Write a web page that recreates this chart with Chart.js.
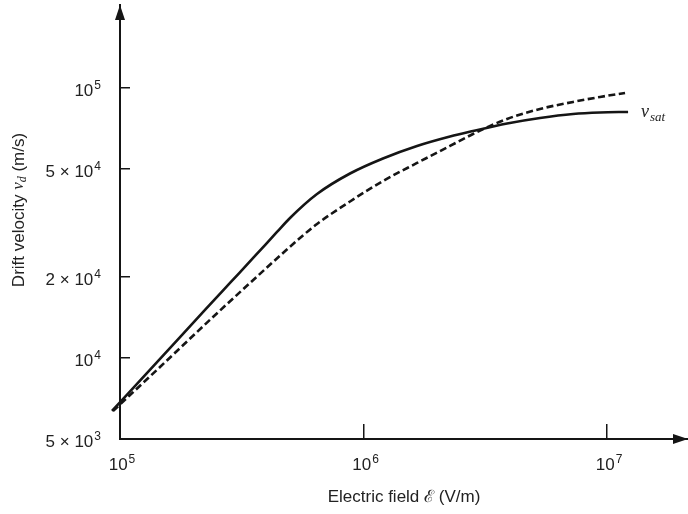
<!DOCTYPE html>
<html>
<head>
<meta charset="utf-8">
<script src="https://cdn.jsdelivr.net/npm/chart.js@4/dist/chart.umd.min.js"></script>
<style>
  html, body { margin: 0; padding: 0; background: #ffffff; }
  #wrap { width: 688px; height: 514px; position: relative; }
</style>
</head>
<body>
<div id="wrap"><canvas id="c" width="688" height="514"></canvas></div>
<script>
// ---- data (electric field in V/m, drift velocity in m/s) ----
const solidField    = [92720, 146000, 223400, 283000, 358400, 441300, 499100, 644200, 880200, 1202000, 1658500, 2265400, 2816000, 3885000, 5306000, 7251000, 9360000, 12200000];
const solidVelocity = [6350, 9900, 15040, 18940, 23840, 29260, 32980, 40460, 48200, 54790, 60960, 66100, 69270, 73860, 77420, 80110, 81150, 81500];
const dashField     = [93600, 146000, 238700, 341900, 467200, 548400, 644200, 880200, 1202000, 1658500, 2265400, 2816000, 3885000, 5306000, 7251000, 9360000, 11855000];
const dashVelocity  = [6350, 9245, 14050, 18940, 24460, 27800, 31330, 37960, 45210, 52730, 60960, 67520, 76760, 83600, 88760, 92610, 95820];
const xTickValues = [1e5, 1e6, 1e7];
const xTickLabels = ['10^5', '10^6', '10^7'];
const yTickValues = [5000, 10000, 20000, 50000, 100000];
const yTickLabels = ['5 \u00d7 10^3', '10^4', '2 \u00d7 10^4', '5 \u00d7 10^4', '10^5'];
const xTitle = 'Electric field \u2130 (V/m)';
const yTitleParts = ['Drift velocity ', 'v', 'd', ' (m/s)'];
const satLabel = ['v', 'sat'];

const INK = '#151515';
const TXT = '#222222';
const SANS = '"Liberation Sans", Arial, Helvetica, sans-serif';
const SERIF = '"Liberation Serif", "Times New Roman", serif';
const BASE_FONT = '17px ' + SANS;
const EXP_FONT = '12px ' + SANS;

const toPts = (xs, ys) => xs.map((x, i) => ({ x: x, y: ys[i] }));

// draw "a^b" with a real raised exponent; align: 'right' or 'center'
function drawPow(ctx, label, x, baseline, align) {
  const [base, exp] = label.split('^');
  ctx.font = BASE_FONT;
  const bw = ctx.measureText(base).width;
  ctx.font = EXP_FONT;
  const ew = ctx.measureText(exp || '').width;
  const total = bw + ew + 1;
  const left = align === 'right' ? x - total : x - total / 2;
  ctx.font = BASE_FONT;
  ctx.fillText(base, left, baseline);
  if (exp) {
    ctx.font = EXP_FONT;
    ctx.fillText(exp, left + bw + 1, baseline - 7);
  }
}

const decor = {
  id: 'decor',
  afterDraw(chart) {
    const ctx = chart.ctx;
    const a = chart.chartArea;
    const xs = chart.scales.x, ys = chart.scales.y;
    ctx.save();
    ctx.fillStyle = INK;
    // arrowheads on both axes
    ctx.beginPath();
    ctx.moveTo(a.left, a.top);
    ctx.lineTo(a.left - 5, a.top + 15);
    ctx.lineTo(a.left + 5, a.top + 15);
    ctx.closePath();
    ctx.fill();
    ctx.beginPath();
    ctx.moveTo(a.right, a.bottom);
    ctx.lineTo(a.right - 15, a.bottom - 5);
    ctx.lineTo(a.right - 15, a.bottom + 5);
    ctx.closePath();
    ctx.fill();

    // tick labels positioned by the scales
    ctx.fillStyle = TXT;
    ctx.textAlign = 'left';
    ctx.textBaseline = 'alphabetic';
    yTickValues.forEach((v, i) => {
      const py = ys.getPixelForValue(v);
      drawPow(ctx, yTickLabels[i], a.left - 19, py + 8, 'right');
    });
    xTickValues.forEach((v, i) => {
      const px = xs.getPixelForValue(v);
      drawPow(ctx, xTickLabels[i], px + 2, a.bottom + 31, 'center');
    });
    ctx.restore();

    // y axis title with subscript
    ctx.save();
    ctx.translate(19, (a.top + a.bottom) / 2 - 12);
    ctx.rotate(-Math.PI / 2);
    ctx.fillStyle = TXT;
    ctx.textBaseline = 'middle';
    const fonts = ['17px ' + SANS, 'italic 17px ' + SERIF, 'italic 12px ' + SERIF, '17px ' + SANS];
    const dys = [0, 0, 4, 0];
    let total = 0;
    const widths = yTitleParts.map((t, i) => { ctx.font = fonts[i]; const w = ctx.measureText(t).width; total += w; return w; });
    let x = -total / 2;
    yTitleParts.forEach((t, i) => { ctx.font = fonts[i]; ctx.fillText(t, x, dys[i]); x += widths[i]; });
    ctx.restore();

    // v_sat label next to the end of the solid curve
    const meta = chart.getDatasetMeta(0);
    const last = meta.data[meta.data.length - 1];
    ctx.save();
    ctx.fillStyle = TXT;
    ctx.textBaseline = 'alphabetic';
    ctx.font = 'italic 18px ' + SERIF;
    const lx = last.x + 13, ly = last.y + 5;
    ctx.fillText(satLabel[0], lx, ly);
    const vw = ctx.measureText(satLabel[0]).width;
    ctx.font = 'italic 13px ' + SERIF;
    ctx.fillText(satLabel[1], lx + vw + 1, ly + 4);
    ctx.restore();
  }
};

new Chart(document.getElementById('c'), {
  type: 'line',
  data: {
    datasets: [
      {
        label: 'solid',
        data: toPts(solidField, solidVelocity),
        borderColor: INK,
        borderWidth: 2.6,
        pointRadius: 0,
        fill: false,
        cubicInterpolationMode: 'monotone',
        clip: false
      },
      {
        label: 'dashed',
        data: toPts(dashField, dashVelocity),
        borderColor: INK,
        borderWidth: 2.6,
        borderDash: [7, 3.5],
        pointRadius: 0,
        fill: false,
        cubicInterpolationMode: 'monotone',
        clip: false
      }
    ]
  },
  options: {
    responsive: false,
    animation: false,
    events: [],
    layout: { padding: { top: 5, right: 0, left: 0, bottom: 0 } },
    plugins: { legend: { display: false }, tooltip: { enabled: false } },
    scales: {
      x: {
        type: 'logarithmic',
        min: 1e5,
        max: 2.15e7,
        afterBuildTicks: s => { s.ticks = xTickValues.map(v => ({ value: v })); },
        afterFit: s => { s.height = 75; s.paddingLeft = 0; s.paddingRight = 0; },
        ticks: { display: false, autoSkip: false, maxRotation: 0, padding: 0 },
        grid: { drawOnChartArea: false, drawTicks: true, tickLength: -15, color: INK, lineWidth: 1.5 },
        border: { display: true, color: INK, width: 2 },
        title: { display: true, text: xTitle, color: TXT, font: { family: SANS, size: 17 }, padding: { top: 0, bottom: 6 } }
      },
      y: {
        type: 'logarithmic',
        min: 5000,
        max: 203000,
        afterBuildTicks: s => { s.ticks = yTickValues.map(v => ({ value: v })); },
        afterFit: s => { s.width = 120; s.paddingTop = 0; s.paddingBottom = 0; },
        ticks: { display: false, autoSkip: false, padding: 0 },
        grid: { drawOnChartArea: false, drawTicks: true, tickLength: -10, color: INK, lineWidth: 1.5 },
        border: { display: true, color: INK, width: 2 }
      }
    }
  },
  plugins: [decor]
});
</script>
</body>
</html>
